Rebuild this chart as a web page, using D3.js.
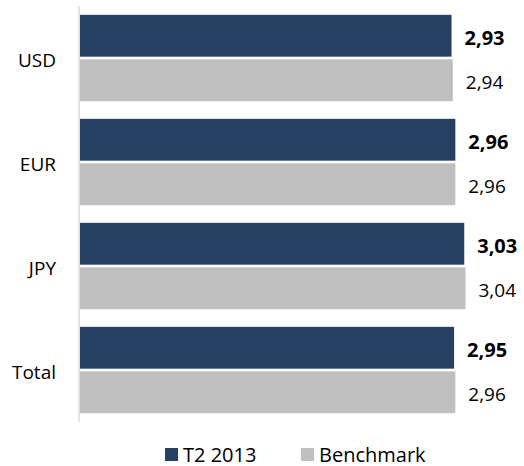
<!DOCTYPE html>
<html>
<head>
<meta charset="utf-8">
<script src="https://cdn.jsdelivr.net/npm/d3@7"></script>
<style>
  body { margin: 0; background: #fff; }
  svg { display: block; font-family: "Open Sans", "Liberation Sans", sans-serif; }
</style>
</head>
<body>
<script>
// Data
const categories = ["USD", "EUR", "JPY", "Total"];
const seriesNames = ["T2 2013", "Benchmark"];
const t2Values = [2.93, 2.96, 3.03, 2.95];
const benchmarkValues = [2.94, 2.96, 3.04, 2.96];

const colors = { "T2 2013": "#264061", "Benchmark": "#bfbfbf" };

// Build rows from the arrays
const data = categories.map((c, i) => ({
    category: c,
    values: [
        { series: "T2 2013", value: t2Values[i] },
        { series: "Benchmark", value: benchmarkValues[i] }
    ]
}));

const width = 524, height = 466;
const margin = { top: 6, right: 0, bottom: 44, left: 79 };

const locale = d3.formatLocale({ decimal: ",", thousands: ".", grouping: [3], currency: ["", ""] });
const fmt = locale.format(".2f");

const svg = d3.select("body").append("svg")
    .attr("width", width)
    .attr("height", height);

// Scales
const xScale = d3.scaleLinear()
    .domain([0, 3.5])
    .range([margin.left, width - margin.right]);

const yScale = d3.scaleBand()
    .domain(categories)
    .range([margin.top, height - margin.bottom])
    .paddingInner(0.17)
    .paddingOuter(0.085);

const ySeries = d3.scaleBand()
    .domain(seriesNames)
    .range([0, yScale.bandwidth()])
    .paddingInner(0.06);

// Bars
const groups = svg.selectAll(".group")
    .data(data)
    .join("g")
    .attr("class", "group")
    .attr("transform", d => `translate(0,${yScale(d.category)})`);

groups.selectAll("rect")
    .data(d => d.values)
    .join("rect")
    .attr("x", xScale(0) + 1)
    .attr("y", d => ySeries(d.series))
    .attr("width", d => xScale(d.value) - xScale(0) - 1)
    .attr("height", ySeries.bandwidth())
    .attr("fill", d => colors[d.series]);

// Value labels
groups.selectAll("text.value")
    .data(d => d.values)
    .join("text")
    .attr("class", "value")
    .attr("x", d => xScale(d.value) + 13)
    .attr("y", d => ySeries(d.series) + ySeries.bandwidth() / 2 + 2)
    .attr("dy", "0.35em")
    .style("font-size", d => d.series === "T2 2013" ? "20px" : "19px")
    .style("font-weight", d => d.series === "T2 2013" ? "bold" : "normal")
    .attr("fill", "#000")
    .text(d => fmt(d.value));

// Category axis line
svg.append("line")
    .attr("x1", xScale(0))
    .attr("x2", xScale(0))
    .attr("y1", margin.top)
    .attr("y2", height - margin.bottom)
    .attr("stroke", "#e3e3e3")
    .attr("stroke-width", 2);

// Category labels
svg.selectAll("text.cat")
    .data(categories)
    .join("text")
    .attr("class", "cat")
    .attr("x", xScale(0) - 23)
    .attr("y", d => yScale(d) + yScale.bandwidth() / 2 + 2)
    .attr("dy", "0.35em")
    .attr("text-anchor", "end")
    .style("font-size", "19px")
    .attr("fill", "#000")
    .text(d => d);

// Legend
const legendX = [165, 301];
const legend = svg.selectAll(".legend")
    .data(seriesNames)
    .join("g")
    .attr("class", "legend")
    .attr("transform", (d, i) => `translate(${legendX[i]},448)`);

legend.append("rect")
    .attr("width", 13)
    .attr("height", 13)
    .attr("fill", d => colors[d]);

legend.append("text")
    .attr("x", 18)
    .attr("y", 13.5)
    .style("font-size", "20px")
    .attr("fill", "#000")
    .text(d => d);
</script>
</body>
</html>
